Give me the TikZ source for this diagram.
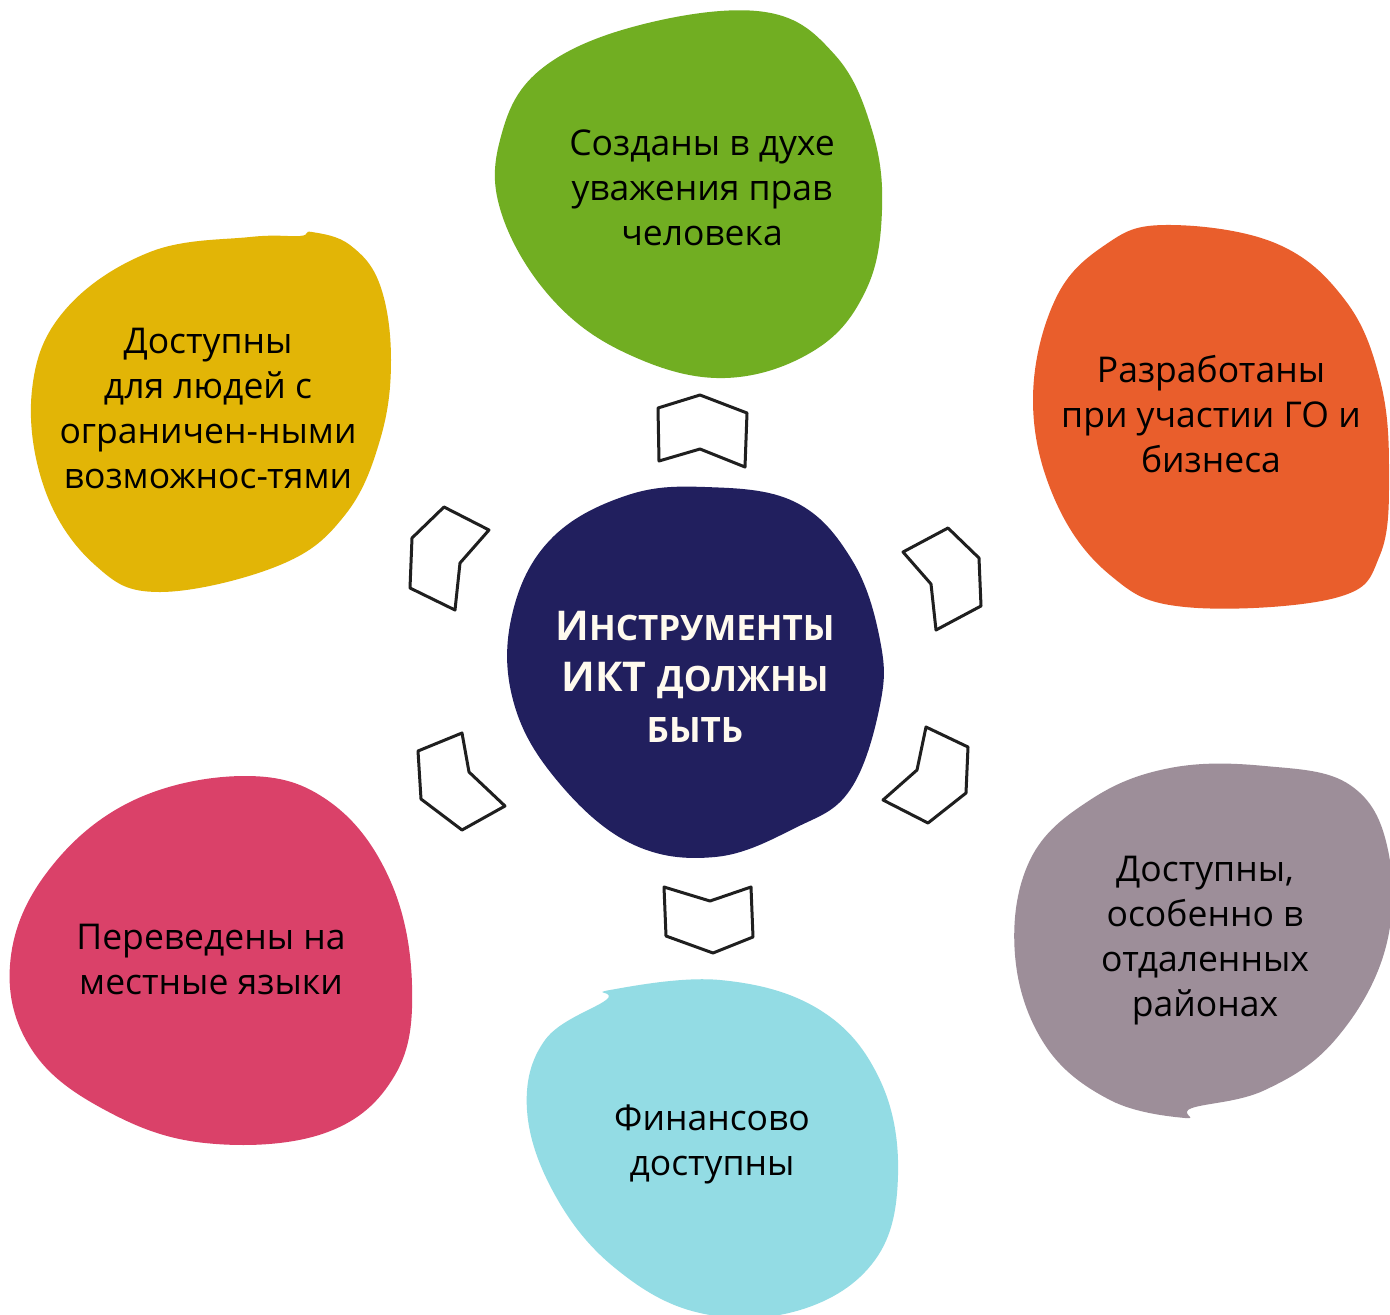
\documentclass[tikz,border=0pt]{standalone}
\usepackage{fontspec}
\setmainfont{Open Sans}
\begin{document}
\begin{tikzpicture}[x=1pt,y=-1pt,
  blob/.style={draw=none},
  arr/.style={draw=black!88,line width=3pt,fill=white,line join=round},
  lbl/.style={align=center,text=black,font=\fontsize{35.5}{45}\selectfont},
  ctr/.style={align=center,text={rgb,255:red,255;green,250;blue,238},font=\bfseries\fontsize{41}{51}\selectfont}]
\definecolor{cgreen}{RGB}{113,174,34}
\definecolor{cyellow}{RGB}{226,181,6}
\definecolor{corange}{RGB}{233,94,44}
\definecolor{cgray}{RGB}{157,142,153}
\definecolor{cteal}{RGB}{147,220,228}
\definecolor{cpink}{RGB}{218,65,105}
\definecolor{cnavy}{RGB}{33,31,94}
\useasboundingbox (0,0) rectangle (1390,1315);
\fill[white] (0,0) rectangle (1390,1315);
% blobs
\fill[cgreen] plot[smooth cycle,tension=0.65] coordinates {(765,12) (835,55) (872,130) (882,210) (866,290) (815,350) (725,378) (630,355) (553,300) (502,215) (500,140) (540,70) (640,25)};
\fill[cyellow] plot[smooth cycle,tension=0.65] coordinates {(312,232) (350,245) (380,285) (391,360) (380,440) (345,515) (280,565) (160,592) (95,565) (45,490) (32,390) (65,310) (150,252) (250,237) (300,236)};
\fill[corange] plot[smooth cycle,tension=0.65] coordinates {(1165,225) (1275,243) (1345,300) (1380,380) (1389,470) (1380,555) (1335,598) (1185,607) (1110,575) (1055,500) (1033,400) (1055,300) (1105,245)};
\fill[cgray] plot[smooth cycle,tension=0.65] coordinates {(1265,766) (1350,785) (1388,850) (1385,950) (1335,1040) (1265,1090) (1192,1108) (1185,1118) (1110,1100) (1045,1045) (1015,955) (1030,860) (1090,800) (1170,768)};
\fill[cteal] plot[smooth cycle,tension=0.65] coordinates {(610,990) (720,980) (820,1010) (880,1080) (898,1175) (875,1260) (800,1310) (700,1313) (615,1268) (555,1195) (527,1110) (545,1040) (606,1000)};
\fill[cpink] plot[smooth cycle,tension=0.65] coordinates {(245,776) (330,802) (390,880) (412,985) (395,1075) (325,1133) (205,1143) (105,1110) (32,1050) (10,965) (45,875) (130,802)};
\fill[cnavy] plot[smooth cycle,tension=0.65] coordinates {(705,487) (795,502) (852,560) (880,640) (880,705) (850,790) (795,828) (715,857) (630,843) (555,778) (513,700) (512,615) (550,540) (625,496)};
% arrows
\draw[arr] (658,408) -- (700,395) -- (747,413) -- (745,467) -- (700,449) -- (659,461) -- cycle;
\draw[arr] (903,552) -- (948,528) -- (979,558) -- (981,606) -- (936,630) -- (931,584) -- cycle;
\draw[arr] (444,507) -- (489,530) -- (460,563) -- (455,610) -- (410,588) -- (412,538) -- cycle;
\draw[arr] (418,751) -- (462,733) -- (469,772) -- (505,806) -- (462,830) -- (421,799) -- cycle;
\draw[arr] (926,727) -- (968,747) -- (966,793) -- (928,823) -- (883,800) -- (917,770) -- cycle;
\draw[arr] (664,887) -- (710,901) -- (751,887) -- (753,937) -- (713,953) -- (666,936) -- cycle;
% texts
\node[lbl] (t1) at (702,188) {Созданы в духе\\уважения прав\\человека};
\node[lbl] (t2) at (208,408) {Доступны\\для людей с\\ограничен-ными\\возможнос-тями};
\node[lbl] (t3) at (1211,414) {Разработаны\\при участии ГО и\\бизнеса};
\node[lbl] (t4) at (1205,941) {Доступны,\\особенно в\\отдаленных\\районах};
\node[lbl] (t5) at (712,1144) {Финансово\\доступны};
\node[lbl] (t6) at (211,959) {Переведены на\\местные языки};
\node[ctr] (c) at (695,677) {И{\fontsize{35}{51}\selectfont НСТРУМЕНТЫ}\\ИКТ {\fontsize{35}{51}\selectfont ДОЛЖНЫ}\\{\fontsize{35}{51}\selectfont БЫТЬ}};
\end{tikzpicture}
\end{document}
